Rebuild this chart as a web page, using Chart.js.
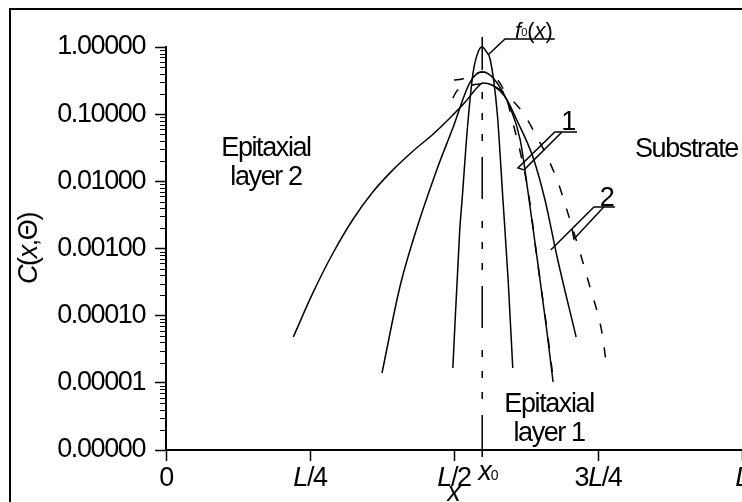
<!DOCTYPE html>
<html>
<head>
<meta charset="utf-8">
<script src="https://cdn.jsdelivr.net/npm/chart.js@4.4.1/dist/chart.umd.min.js"></script>
<style>
  html, body { margin: 0; padding: 0; background: #fff; overflow: hidden; }
  #wrap { position: relative; width: 742px; height: 502px; overflow: hidden; }
  #frame { position: absolute; left: 9px; top: 8px; width: 800px; height: 600px; border: 2px solid #000; }
  canvas { position: absolute; left: 0; top: 0; }
</style>
</head>
<body>
<div id="wrap">
  <div id="frame"></div>
  <canvas id="chart" width="742" height="502"></canvas>
</div>
<script>
const FONT = '"Liberation Sans", Arial, Helvetica, sans-serif';

// x in units of L, C(x, Θ) relative
// f0(x) - initial distribution
const f0X = [0.498, 0.510, 0.514, 0.523, 0.533, 0.542, 0.549, 0.556, 0.563, 0.575, 0.585, 0.594, 0.602];
const f0Y = [1.66e-5, 1.91e-3, 5.25e-3, 0.0575, 0.407, 0.851, 1.0, 0.851, 0.646, 0.105, 5.25e-3, 3.39e-4, 1.66e-5];

// model 1 (solid)
const s1X = [0.375, 0.406, 0.429, 0.470, 0.498, 0.528, 0.549, 0.568, 0.597, 0.615, 0.628, 0.644, 0.661, 0.672];
const s1Y = [1.40e-5, 2.67e-4, 1.34e-3, 0.0148, 0.0622, 0.301, 0.425, 0.345, 0.128, 0.0412, 7.43e-3, 7.48e-4, 6.12e-5, 1.03e-5];
const s2X = [0.221, 0.255, 0.290, 0.325, 0.359, 0.394, 0.429, 0.464, 0.493, 0.521, 0.538, 0.550, 0.566, 0.580, 0.592, 0.609, 0.637, 0.658, 0.679, 0.712];
const s2Y = [4.82e-5, 2.18e-4, 8.57e-4, 2.75e-3, 6.94e-3, 0.0148, 0.0283, 0.0507, 0.0877, 0.157, 0.237, 0.291, 0.272, 0.221, 0.163, 0.0818, 0.0230, 5.27e-3, 7.48e-4, 4.82e-5];

// model 2 (dashed)
const d1X = [0.500, 0.514, 0.528, 0.549, 0.571, 0.589, 0.601, 0.615, 0.629, 0.644, 0.662, 0.672];
const d1Y = [0.323, 0.334, 0.370, 0.425, 0.357, 0.200, 0.0818, 0.0273, 6.94e-3, 7.23e-4, 5.71e-5, 1.18e-5];
const d2X = [0.498, 0.505, 0.519, 0.550, 0.575, 0.597, 0.620, 0.644, 0.662, 0.681, 0.696, 0.719, 0.736, 0.757, 0.764];
const d2Y = [0.174, 0.221, 0.254, 0.281, 0.245, 0.174, 0.104, 0.0457, 0.0230, 9.44e-3, 3.74e-3, 8.57e-4, 2.67e-4, 5.52e-5, 2.04e-5];

const xTickValues = [0, 0.25, 0.5, 0.75, 1];
const xTickLabels = ['0', 'L/4', 'L/2', '3L/4', 'L'];
const yTickValues = [1e-6, 1e-5, 1e-4, 1e-3, 1e-2, 1e-1, 1];
const yTickLabels = ['0.00000', '0.00001', '0.00010', '0.00100', '0.01000', '0.10000', '1.00000'];
const x0 = 0.549;

// annotations, in data units [x/L, C]
const leaders = [
  [[0.559, 0.76], [0.5885, 1.316], [0.675, 1.316]],
  [[0.6215, 0.0148], [0.611, 0.0158], [0.675, 0.0543], [0.7135, 0.0543]],
  [[0.6215, 0.0148], [0.6875, 0.0543]],
  [[0.668, 9.5e-4], [0.743, 4.15e-3], [0.7795, 4.15e-3]],
  [[0.7049, 1.95e-3], [0.7083, 1.39e-3], [0.760, 4.15e-3]]
];
const notes = [
  { lines: ['Epitaxial', 'layer 2'], x: 0.1736, v: [0.0238, 8.83e-3] },
  { lines: ['Epitaxial', 'layer 1'], x: 0.665, v: [3.68e-6, 1.36e-6] },
  { lines: ['Substrate'], x: 0.9036, v: [0.0230] },
  { lines: ['1'], x: 0.698, v: [0.058] },
  { lines: ['2'], x: 0.765, v: [4.3e-3] }
];

function pts(xs, ys) { return xs.map((x, i) => ({ x: x, y: ys[i] })); }

function curve(xs, ys, dashed) {
  return {
    data: pts(xs, ys), showLine: true, borderColor: '#000', borderWidth: 1.5,
    borderDash: dashed ? [10, 14] : [], pointRadius: 0,
    cubicInterpolationMode: 'monotone', clip: false
  };
}

function rich(ctx, parts, x, y, align, ls) {
  ctx.letterSpacing = (ls || 0) + 'px';
  ctx.textAlign = 'left';
  ctx.textBaseline = 'alphabetic';
  let w = 0;
  parts.forEach(p => {
    ctx.font = (p[2] ? 'italic ' : '') + p[1] + 'px ' + FONT;
    w += ctx.measureText(p[0]).width;
  });
  let cx = align === 'center' ? x - w / 2 : x;
  parts.forEach(p => {
    ctx.font = (p[2] ? 'italic ' : '') + p[1] + 'px ' + FONT;
    ctx.fillText(p[0], cx, y + (p[3] || 0));
    cx += ctx.measureText(p[0]).width;
  });
}

function withL(s, size) {
  return s.split(/(L)/).filter(Boolean).map(t => [t, size, t === 'L']);
}

const extras = {
  id: 'extras',
  beforeDraw(chart) {
    chart.ctx.letterSpacing = '-1.4px';
  },
  afterDraw(chart) {
    const ctx = chart.ctx;
    const xs = chart.scales.x, ys = chart.scales.y;
    const a = chart.chartArea;
    ctx.save();
    ctx.fillStyle = '#000';
    ctx.strokeStyle = '#000';

    // minor log ticks
    ctx.lineWidth = 1.2;
    ctx.beginPath();
    for (let e = -6; e < 0; e++) {
      for (let m = 2; m <= 9; m++) {
        const py = Math.round(ys.getPixelForValue(m * Math.pow(10, e))) + 0.5;
        ctx.moveTo(a.left - 6, py);
        ctx.lineTo(a.left, py);
      }
    }
    ctx.stroke();

    // x tick labels
    xTickValues.forEach((v, i) => {
      rich(ctx, withL(xTickLabels[i], 27), xs.getPixelForValue(v), a.bottom + 36, 'center', -1.4);
    });

    // x0 dash-dot line
    const px0 = xs.getPixelForValue(x0);
    ctx.lineWidth = 1.5;
    ctx.setLineDash([42, 16, 7, 14, 7, 14, 7, 22]);
    ctx.beginPath();
    ctx.moveTo(px0, a.bottom + 7);
    ctx.lineTo(px0, ys.getPixelForValue(1.41));
    ctx.stroke();
    ctx.setLineDash([]);
    rich(ctx, [['x', 27, true], ['0', 14, false]], px0 - 4, a.bottom + 30, 'left', -1);

    // axis titles
    rich(ctx, [['x', 27, true]], (a.left + a.right) / 2, a.bottom + 51, 'center', 0);
    ctx.save();
    ctx.translate(37, (a.top + a.bottom) / 2);
    ctx.rotate(-Math.PI / 2);
    rich(ctx, [['C', 27, true], ['(', 27], ['x', 27, true], [',', 27], ['\u0398', 27], [')', 27]], 0, 0, 'center', -1.4);
    ctx.restore();

    // leader lines
    ctx.lineWidth = 1.5;
    leaders.forEach(l => {
      ctx.beginPath();
      l.forEach((p, i) => {
        const X = xs.getPixelForValue(p[0]), Y = ys.getPixelForValue(p[1]);
        if (i === 0) ctx.moveTo(X, Y); else ctx.lineTo(X, Y);
      });
      ctx.stroke();
    });

    // f0(x)
    rich(ctx, [['f', 22, true], ['0', 11, false, -2], ['(', 22], ['x', 22, true], [')', 22]],
      xs.getPixelForValue(0.606), ys.getPixelForValue(1.36), 'left', 0);

    // region labels
    notes.forEach(n => {
      n.lines.forEach((t, i) => {
        rich(ctx, [[t, 27]], xs.getPixelForValue(n.x), ys.getPixelForValue(n.v[i]), 'center', -1.4);
      });
    });
    ctx.restore();
  }
};

new Chart(document.getElementById('chart'), {
  type: 'scatter',
  data: {
    datasets: [
      curve(f0X, f0Y, false),
      curve(s1X, s1Y, false),
      curve(s2X, s2Y, false),
      curve(d1X, d1Y, true),
      curve(d2X, d2Y, true)
    ]
  },
  options: {
    responsive: false,
    animation: false,
    layout: { padding: { top: 47, left: 0, right: 0, bottom: 0 } },
    plugins: { legend: { display: false }, tooltip: { enabled: false } },
    scales: {
      x: {
        type: 'linear', min: 0, max: 1,
        afterBuildTicks: s => { s.ticks = xTickValues.map(v => ({ value: v })); },
        ticks: { display: false },
        grid: { drawOnChartArea: false, tickLength: 11, tickWidth: 1.5, tickColor: '#000' },
        border: { color: '#000', width: 2 },
        afterFit: s => { s.height = 52; s.paddingLeft = 0; s.paddingRight = 0; }
      },
      y: {
        type: 'logarithmic', min: 1e-6, max: 1,
        afterBuildTicks: s => { s.ticks = yTickValues.map(v => ({ value: v, major: true })); },
        ticks: {
          autoSkip: false, padding: 10, color: '#000',
          font: { family: FONT, size: 27 },
          callback: (v, i) => yTickLabels[i]
        },
        grid: { drawOnChartArea: false, tickLength: 11, tickWidth: 1.5, tickColor: '#000' },
        border: { color: '#000', width: 2 },
        afterFit: s => { s.width = 166; s.paddingTop = 0; s.paddingBottom = 0; }
      }
    }
  },
  plugins: [extras]
});
</script>
</body>
</html>
